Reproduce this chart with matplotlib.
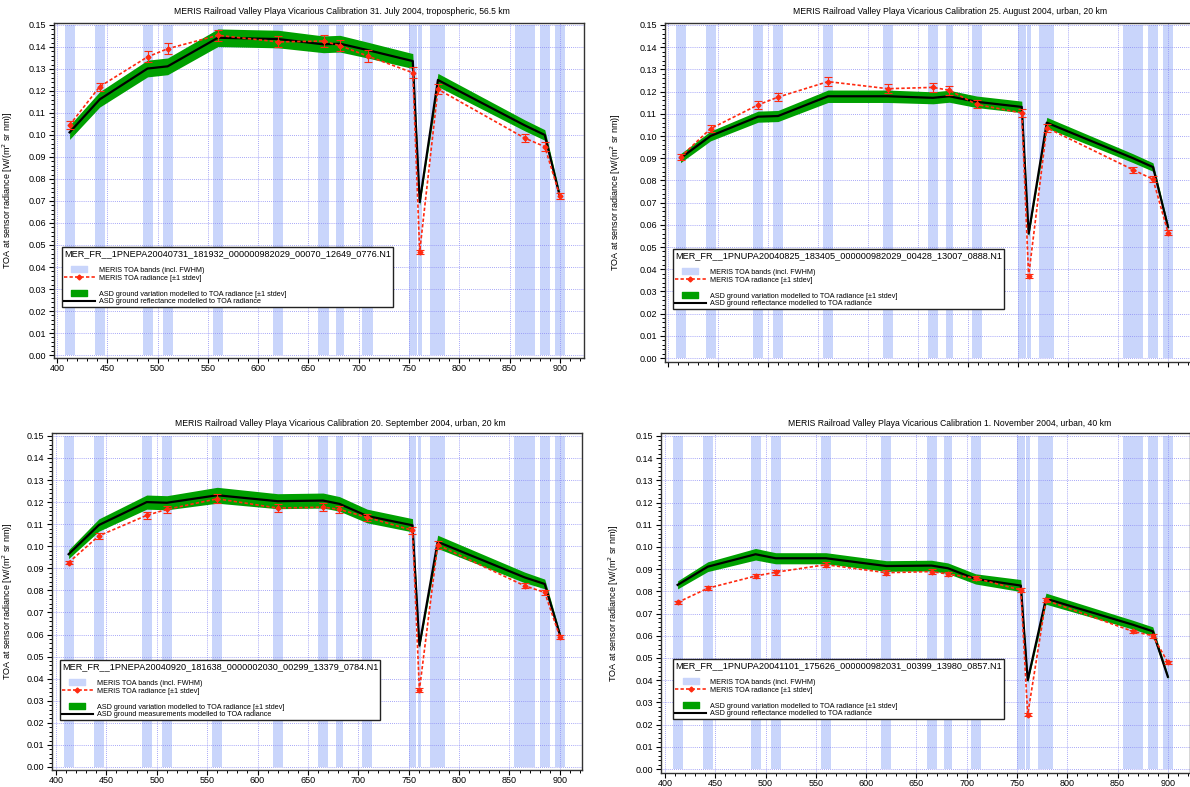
import matplotlib.pyplot as plt
import numpy as np
from matplotlib.lines import Line2D
from matplotlib.path import Path
from matplotlib.patches import Rectangle
from matplotlib.ticker import MultipleLocator, FormatStrFormatter

plt.rcParams['font.family'] = ['Liberation Sans', 'DejaVu Sans']

# MERIS band centres and FWHM (nm)
band_centre = [412.5, 442.5, 490, 510, 560, 620, 665, 681.25, 708.75,
               753.75, 760.625, 778.75, 865, 885, 900]
band_fwhm = [10, 10, 10, 10, 10, 10, 10, 7.5, 10, 7.5, 3.75, 15, 20, 10, 10]

# 31 July 2004
meris_jul = [0.1045, 0.1220, 0.1355, 0.1392, 0.1453, 0.1423, 0.1427, 0.1406,
             0.1359, 0.1283, 0.0470, 0.1208, 0.0986, 0.0947, 0.0723]
meris_err_jul = [0.0019, 0.0018, 0.0025, 0.0025, 0.0025, 0.0025, 0.0027, 0.0026,
                 0.0026, 0.0024, 0.0009, 0.0023, 0.0019, 0.0022, 0.0014]
asd_jul = [0.1012, 0.1162, 0.1302, 0.1312, 0.1442, 0.1436, 0.1412, 0.1415,
           0.1386, 0.1336, 0.0695, 0.1250, 0.1044, 0.1000, 0.0720]
asd_std_jul = [0.0032, 0.0035, 0.0038, 0.0038, 0.0040, 0.0040, 0.0038, 0.0038,
               0.0036, 0.0034, 0.0015, 0.0030, 0.0025, 0.0024, 0.0015]

# 25 August 2004
meris_aug = [0.0905, 0.1033, 0.1140, 0.1175, 0.1245, 0.1213, 0.1219, 0.1206,
             0.1142, 0.1104, 0.0370, 0.1037, 0.0848, 0.0805, 0.0565]
meris_err_aug = [0.0014, 0.0015, 0.0018, 0.0018, 0.0020, 0.0020, 0.0020, 0.0020,
                 0.0018, 0.0018, 0.0008, 0.0018, 0.0014, 0.0014, 0.0010]
asd_aug = [0.0900, 0.1000, 0.1087, 0.1090, 0.1179, 0.1179, 0.1172, 0.1179,
           0.1154, 0.1131, 0.0560, 0.1060, 0.0900, 0.0860, 0.0590]
asd_std_aug = [0.0020, 0.0022, 0.0025, 0.0025, 0.0028, 0.0028, 0.0027, 0.0027,
               0.0026, 0.0026, 0.0012, 0.0024, 0.0020, 0.0019, 0.0012]

# 20 September 2004
meris_sep = [0.0926, 0.1047, 0.1140, 0.1167, 0.1215, 0.1173, 0.1177, 0.1167,
             0.1131, 0.1072, 0.0349, 0.1006, 0.0821, 0.0791, 0.0590]
meris_err_sep = [0.0007, 0.0012, 0.0015, 0.0017, 0.0020, 0.0018, 0.0018, 0.0017,
                 0.0016, 0.0017, 0.0007, 0.0017, 0.0012, 0.0012, 0.0010]
asd_sep = [0.0964, 0.1096, 0.1200, 0.1197, 0.1231, 0.1204, 0.1207, 0.1192,
           0.1137, 0.1095, 0.0550, 0.1020, 0.0859, 0.0829, 0.0600]
asd_std_sep = [0.0020, 0.0028, 0.0032, 0.0032, 0.0036, 0.0034, 0.0034, 0.0033,
               0.0031, 0.0030, 0.0012, 0.0030, 0.0024, 0.0022, 0.0012]

# 1 November 2004
meris_nov = [0.0750, 0.0814, 0.0869, 0.0886, 0.0920, 0.0884, 0.0889, 0.0878,
             0.0859, 0.0806, 0.0245, 0.0760, 0.0620, 0.0600, 0.0480]
meris_err_nov = [0.0008, 0.0010, 0.0011, 0.0011, 0.0012, 0.0011, 0.0011, 0.0011,
                 0.0010, 0.0010, 0.0005, 0.0010, 0.0008, 0.0008, 0.0006]
asd_nov = [0.0829, 0.0911, 0.0967, 0.0949, 0.0949, 0.0914, 0.0916, 0.0904,
           0.0856, 0.0826, 0.0400, 0.0767, 0.0650, 0.0620, 0.0415]
asd_std_nov = [0.0018, 0.0022, 0.0026, 0.0025, 0.0025, 0.0024, 0.0024, 0.0024,
               0.0023, 0.0027, 0.0010, 0.0025, 0.0020, 0.0020, 0.0010]

titles = [
    'MERIS Railroad Valley Playa Vicarious Calibration 31. July 2004, tropospheric, 56.5 km',
    'MERIS Railroad Valley Playa Vicarious Calibration 25. August 2004, urban, 20 km',
    'MERIS Railroad Valley Playa Vicarious Calibration 20. September 2004, urban, 20 km',
    'MERIS Railroad Valley Playa Vicarious Calibration 1. November 2004, urban, 40 km',
]
products = [
    'MER_FR__1PNEPA20040731_181932_000000982029_00070_12649_0776.N1',
    'MER_FR__1PNUPA20040825_183405_000000982029_00428_13007_0888.N1',
    'MER_FR__1PNEPA20040920_181638_0000002030_00299_13379_0784.N1',
    'MER_FR__1PNUPA20041101_175626_000000982031_00399_13980_0857.N1',
]
asd_labels = [
    'ASD ground reflectance modelled to TOA radiance',
    'ASD ground reflectance modelled to TOA radiance',
    'ASD ground measurements modelled to TOA radiance',
    'ASD ground reflectance modelled to TOA radiance',
]

W, H = 1190, 787
band_col = '#c9d5fb'
red = '#ff2a10'
green = '#00a000'

panels = [
    dict(meris=meris_jul, err=meris_err_jul, asd=asd_jul, std=asd_std_jul,
         box=(54, 23, 584, 358), xlim=(397, 924), ylim=(-0.00136, 0.1509),
         title_xy=(342, 12), leg=(0.015, 0.331), ylab_x=15),
    dict(meris=meris_aug, err=meris_err_aug, asd=asd_aug, std=asd_std_aug,
         box=(665, 23, 1192, 362), xlim=(397, 924), ylim=(-0.0018, 0.1509),
         title_xy=(950, 12), leg=(0.0152, 0.333), ylab_x=623),
    dict(meris=meris_sep, err=meris_err_sep, asd=asd_sep, std=asd_std_sep,
         box=(52, 433, 582, 770), xlim=(396, 922), ylim=(-0.00136, 0.1513),
         title_xy=(340, 423), leg=(0.015, 0.326), ylab_x=15),
    dict(meris=meris_nov, err=meris_err_nov, asd=asd_nov, std=asd_std_nov,
         box=(661, 433, 1190, 773), xlim=(396, 922), ylim=(-0.0018, 0.1513),
         title_xy=(950, 423), leg=(0.023, 0.335), ylab_x=621),
]

rect_marker = Path([(-8, -3), (8, -3), (8, 3), (-8, 3), (-8, -3)],
                   [Path.MOVETO, Path.LINETO, Path.LINETO, Path.LINETO, Path.CLOSEPOLY])

fig = plt.figure(figsize=(W / 100, H / 100), dpi=100)

for i, p in enumerate(panels):
    x0, y0, x1, y1 = p['box']
    ax = fig.add_axes([x0 / W, 1 - y1 / H, (x1 - x0) / W, (y1 - y0) / H])

    # MERIS bands incl. FWHM
    for c, w in zip(band_centre, band_fwhm):
        ax.fill_between([c - w / 2, c + w / 2], 0, 0.15, color=band_col, lw=0, zorder=0.5)

    meris = np.array(p['meris'])
    asd = np.array(p['asd'])
    std = np.array(p['std'])
    ax.fill_between(band_centre, asd - std, asd + std, color=green, lw=0, zorder=2)
    ax.plot(band_centre, asd, color='black', lw=1.6, zorder=3)
    ax.errorbar(band_centre, meris, yerr=p['err'], color=red, lw=1.2, ls=(0, (2, 1.3)),
                marker='D', ms=2.5, ecolor=red, elinewidth=0.8, capsize=2.8,
                capthick=0.8, zorder=4)

    ax.set_xlim(*p['xlim'])
    ax.set_ylim(*p['ylim'])
    ax.xaxis.set_major_locator(MultipleLocator(50))
    ax.xaxis.set_minor_locator(MultipleLocator(10))
    ax.yaxis.set_major_locator(MultipleLocator(0.01))
    ax.yaxis.set_minor_locator(MultipleLocator(0.002))
    ax.yaxis.set_major_formatter(FormatStrFormatter('%.2f'))
    ax.tick_params(which='major', length=3.8, width=0.8, labelsize=6.5, pad=2)
    ax.tick_params(axis='x', which='major', length=3.4, pad=1)
    ax.tick_params(which='minor', length=2.2, width=0.7)
    ax.grid(True, which='major', color='#8a8af5', lw=0.6, ls=(0, (1, 1.5)))
    for s in ax.spines.values():
        s.set_linewidth(1.0)
        s.set_color('#333333')

    ax.set_ylabel('TOA at sensor radiance [W/(m$^2$ sr nm)]', fontsize=6.5)
    ax.yaxis.set_label_coords((p['ylab_x'] - x0) / (x1 - x0), 0.5)

    fig.text(p['title_xy'][0] / W, 1 - p['title_xy'][1] / H, titles[i],
             ha='center', va='center', fontsize=6.2)

    blank = Line2D([], [], ls='none')
    h_band = Line2D([], [], ls='none', marker=rect_marker, ms=11.5,
                    color=band_col, mec=band_col)
    h_meris = Line2D([], [], color=red, lw=1.2, ls=(0, (2, 1.3)), marker='D', ms=2.5)
    h_green = Line2D([], [], ls='none', marker=rect_marker, ms=11.5,
                     color=green, mec=green)
    h_asd = Line2D([], [], color='black', lw=1.5)
    leg = ax.legend([blank, h_band, h_meris, blank, h_green, h_asd],
                    [' ', 'MERIS TOA bands (incl. FWHM)', 'MERIS TOA radiance [\u00b11 stdev]',
                     ' ', 'ASD ground variation modelled to TOA radiance [\u00b11 stdev]',
                     asd_labels[i]],
                    title=products[i], title_fontsize=6.6, fontsize=5.2,
                    loc='upper left', bbox_to_anchor=p['leg'], borderaxespad=0,
                    alignment='left', fancybox=False, framealpha=1,
                    edgecolor='#222222', handlelength=4.3, handletextpad=0.6,
                    labelspacing=0.12, borderpad=0.25, numpoints=1)
    leg.get_frame().set_linewidth(1.0)
    leg.set_zorder(6)

# the source panels were cropped just below their axes
fig.add_artist(Rectangle((0, 1 - 405 / H), 600 / W, (405 - 372) / H,
                         transform=fig.transFigure, color='white', zorder=10))
fig.add_artist(Rectangle((600 / W, 1 - 405 / H), 590 / W, (405 - 368) / H,
                         transform=fig.transFigure, color='white', zorder=10))

fig.savefig('out.png', dpi=100)
